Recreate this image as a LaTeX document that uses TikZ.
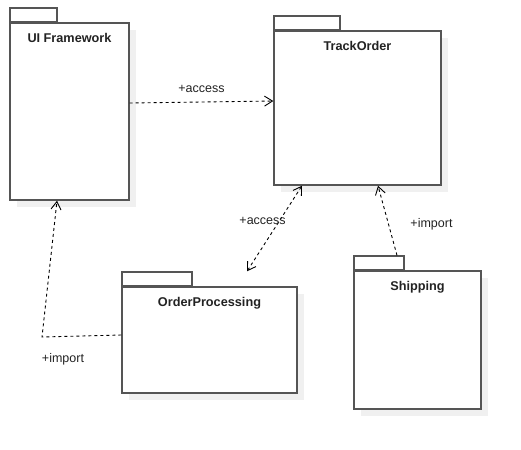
\documentclass[tikz,border=0pt]{standalone}
\usepackage{fontspec}
\setmainfont{Liberation Sans}
\usetikzlibrary{positioning,shadows,arrows.meta}

\definecolor{pkgline}{RGB}{85,85,85}
\definecolor{pkgtext}{RGB}{34,34,34}

\tikzset{
  pkg/.style={draw=pkgline, line width=1.4pt, fill=white, inner sep=0pt,
    drop shadow={shadow xshift=7pt, shadow yshift=-7pt, fill=black!6, opacity=1, draw=none}},
  pkgtab/.style={draw=pkgline, line width=1.4pt, fill=white, inner sep=0pt,
    minimum height=13.5pt, anchor=south west},
  pkgtitle/.style={font=\fontsize{12.7}{15}\selectfont\bfseries, text=pkgtext,
    inner sep=0pt, text height=9.3pt, text depth=0pt},
  dep/.style={draw=black, line width=0.9pt, dash pattern=on 3pt off 3pt},
  depname/.style={font=\fontsize{12.5}{15}\selectfont, text=pkgtext, inner sep=0pt},
  open/.tip={Straight Barb[length=8pt, width=10pt, line width=0.9pt]}
}

\begin{document}
\begin{tikzpicture}[x=1pt,y=-1pt]
  \useasboundingbox (0,0) rectangle (521,449);

  % package bodies
  \begin{scope}[every node/.style={pkg}]
    \node[minimum width=119pt, minimum height=177pt] (ui)    at (69.5,111.5) {};
    \node[minimum width=167pt, minimum height=154pt] (track) at (357.5,108)  {};
    \node[minimum width=175pt, minimum height=106pt] (op)    at (209.5,340)  {};
    \node[minimum width=127pt, minimum height=138pt] (ship)  at (417.5,340)  {};
  \end{scope}

  % tabs
  \node[pkgtab, minimum width=47pt] (uitab)    at (ui.north west)    {};
  \node[pkgtab, minimum width=66pt] (tracktab) at (track.north west) {};
  \node[pkgtab, minimum width=70pt] (optab)    at (op.north west)    {};
  \node[pkgtab, minimum width=50pt] (shiptab)  at (ship.north west)  {};

  % titles
  \node[pkgtitle, below=10.5pt of ui.north]    (uiname)    {UI Framework};
  \node[pkgtitle, below=10.5pt of track.north] (trackname) {TrackOrder};
  \node[pkgtitle, below=10.5pt of op.north]    (opname)    {OrderProcessing};
  \node[pkgtitle, below=10.5pt of ship.north]  (shipname)  {Shipping};

  \coordinate (bend) at (42,337);

  % dependencies
  \draw[dep, -open] ([yshift=8.5pt]ui.east) -- node[depname, above=9pt] {+access} ([yshift=7pt]track.west);
  \draw[dep, open-open] ([xshift=37.5pt,yshift=15pt]op.north) -- node[depname, pos=0.61, xshift=-18pt, yshift=-2pt] {+access} ([xshift=-55.5pt]track.south);
  \draw[dep, -open] ([yshift=5pt]op.west) -- (bend) node[depname, xshift=21pt, yshift=-22pt] {+import} -- ([xshift=-12.5pt]ui.south);
  \draw[dep, -open] ([xshift=18pt]shiptab.north) -- node[depname, pos=0.5, xshift=44pt, yshift=-4pt] {+import} ([xshift=20.5pt]track.south);

\end{tikzpicture}
\end{document}
